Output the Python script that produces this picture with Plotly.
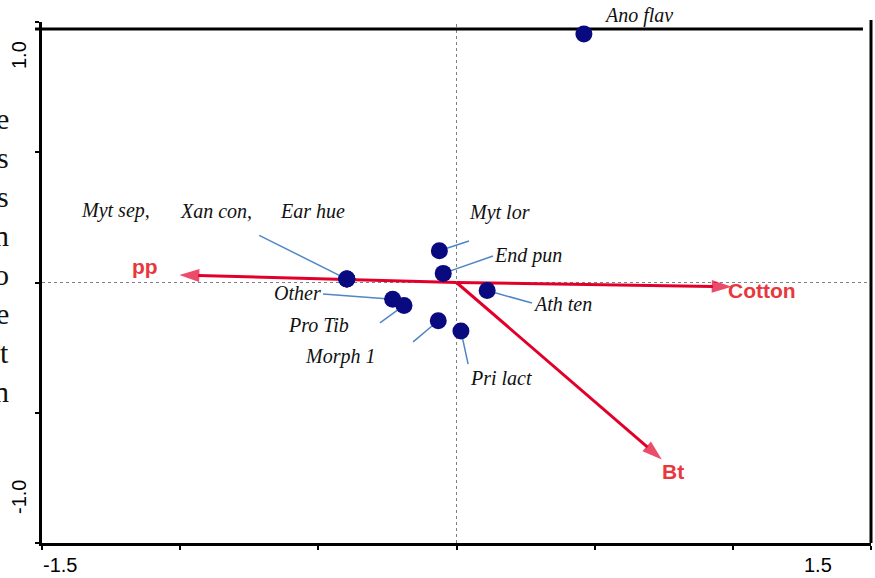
import plotly.graph_objects as go

# ---------------- data ----------------
species = ["Ano flav", "Myt sep,", "Xan con,", "Ear hue", "Myt lor", "End pun",
           "Other", "Pro Tib", "Morph 1", "Pri lact", "Ath ten"]
sp_x = [0.461, -0.397, -0.397, -0.397, -0.062, -0.048, -0.231, -0.190, -0.066, 0.016, 0.111]
sp_y = [0.954, 0.013, 0.013, 0.013, 0.122, 0.035, -0.064, -0.088, -0.147, -0.186, -0.031]

env = ["pp", "Cotton", "Bt"]
env_x = [-1.003, 0.996, 0.743]
env_y = [0.029, -0.016, -0.679]

x_ticks = [-1.5, -1.0, -0.5, 0.0, 0.5, 1.0, 1.5]
y_ticks = [-1.0, -0.5, 0.0, 0.5, 1.0]
x_end_labels = ["-1.5", "1.5"]
y_end_labels = ["1.0", "-1.0"]
side_letters = ["e", "s", "s", "n", "o", "e", "t", "n"]

# ---------------- label layout ----------------
sp_label_pos = {
    "Myt sep,": (-1.233, 0.276), "Xan con,": (-0.870, 0.276),
    "Ear hue": (-0.521, 0.276), "Myt lor": (0.154, 0.267), "End pun": (0.259, 0.102),
    "Other": (-0.574, -0.040), "Pro Tib": (-0.501, -0.163), "Morph 1": (-0.422, -0.285),
    "Pri lact": (0.161, -0.367), "Ath ten": (0.385, -0.083),
}
sp_label_paper = {"Ano flav": (0.720, 1.0134)}
leader_from = {
    "Ear hue": (-0.714, 0.181), "Other": (-0.483, -0.044), "Pro Tib": (-0.277, -0.155),
    "Morph 1": (-0.157, -0.228), "Myt lor": (0.045, 0.159), "End pun": (0.132, 0.102),
    "Ath ten": (0.273, -0.079), "Pri lact": (0.042, -0.313),
}
env_label_pos = {"pp": (-1.127, 0.060), "Cotton": (1.107, -0.029), "Bt": (0.783, -0.726)}

RED = "#e2002a"
RED_TXT = "#e8383d"
NAVY = "#0a0a80"
LEAD = "#4f86c6"
SERIF = "Liberation Serif"
SANS = "Liberation Sans"

fig = go.Figure()

# leader lines (below points)
for name, x, y in zip(species, sp_x, sp_y):
    if name in leader_from:
        lx, ly = leader_from[name]
        fig.add_trace(go.Scatter(x=[lx, x], y=[ly, y], mode="lines",
                                 line=dict(color=LEAD, width=1.5),
                                 hoverinfo="skip", showlegend=False))

# environmental arrows
for name, x, y in zip(env, env_x, env_y):
    fig.add_trace(go.Scatter(x=[0, x], y=[0, y], mode="lines+markers",
                             line=dict(color=RED, width=3),
                             marker=dict(symbol=["circle", "arrow"], size=[0, 21],
                                         angleref="previous", color=RED,
                                         line=dict(width=0)),
                             hoverinfo="skip", showlegend=False))

# species points
fig.add_trace(go.Scatter(x=sp_x, y=sp_y, mode="markers", text=species,
                         marker=dict(color=NAVY, size=17, line=dict(width=0)),
                         hoverinfo="text", showlegend=False))

ann = []
for name in species:
    if name in sp_label_pos:
        lx, ly = sp_label_pos[name]
        ref = dict(xref="x", yref="y")
    else:
        lx, ly = sp_label_paper[name]
        ref = dict(xref="paper", yref="paper")
    ann.append(dict(x=lx, y=ly, text="<i>" + name + "</i>", showarrow=False,
                    xanchor="center", yanchor="middle",
                    font=dict(family=SERIF, size=20, color="#111111"), **ref))
for name in env:
    lx, ly = env_label_pos[name]
    ann.append(dict(x=lx, y=ly, xref="x", yref="y", text="<b>" + name + "</b>",
                    showarrow=False, xanchor="center", yanchor="middle",
                    font=dict(family=SANS, size=21, color=RED_TXT)))

# axis end labels
axf = dict(family=SANS, size=20, color="black")
ann.append(dict(x=0.0217, y=-0.0422, xref="paper", yref="paper", text=x_end_labels[0],
                xanchor="center", yanchor="middle", showarrow=False, font=axf))
ann.append(dict(x=0.936, y=-0.0422, xref="paper", yref="paper", text=x_end_labels[1],
                xanchor="center", yanchor="middle", showarrow=False, font=axf))
ann.append(dict(x=-0.0277, y=0.9367, xref="paper", yref="paper", text=y_end_labels[0],
                textangle=-90, xanchor="center", yanchor="middle", showarrow=False, font=axf))
ann.append(dict(x=-0.0277, y=0.0883, xref="paper", yref="paper", text=y_end_labels[1],
                textangle=-90, xanchor="center", yanchor="middle", showarrow=False, font=axf))

# cropped neighbouring text at the left edge
for i, ch in enumerate(side_letters):
    py = 118 + 39 * i
    ann.append(dict(x=-0.0374, y=(543 - py) / 521, xref="paper", yref="paper", text=ch,
                    showarrow=False, xanchor="right", yanchor="middle",
                    font=dict(family=SERIF, size=30, color="#111111")))

shapes = [
    dict(type="line", xref="x", yref="paper", x0=0, x1=0, y0=0, y1=1,
         line=dict(color="#808080", width=1, dash="dot"), layer="below"),
    dict(type="line", xref="paper", yref="y", x0=0, x1=1, y0=0, y1=0,
         line=dict(color="#808080", width=1, dash="dot"), layer="below"),
    # top frame line
    dict(type="line", xref="paper", yref="paper", x0=-0.0084, x1=0.9903, y0=0.9866, y1=0.9866,
         line=dict(color="black", width=3), layer="below"),
    # right frame line
    dict(type="line", xref="paper", yref="paper", x0=1.0, x1=1.0, y0=0.0, y1=1.004,
         line=dict(color="black", width=3), layer="below"),
]

fig.update_layout(
    width=875, height=578,
    margin=dict(l=42, r=4, t=22, b=35),
    paper_bgcolor="white", plot_bgcolor="white",
    annotations=ann, shapes=shapes,
    xaxis=dict(range=[-1.5, 1.5], tickvals=x_ticks, showticklabels=False,
               showgrid=False, zeroline=False, showline=True, linecolor="black",
               linewidth=3, ticks="outside", ticklen=4, tickwidth=2, tickcolor="black"),
    yaxis=dict(range=[-1.0, 1.0], tickvals=y_ticks, showticklabels=False,
               showgrid=False, zeroline=False, showline=True, linecolor="black",
               linewidth=3, ticks="outside", ticklen=4, tickwidth=2, tickcolor="black"),
)

fig.write_html("out.html", config={"displayModeBar": False},
               post_script="document.body.style.margin='0px';document.body.style.overflow='hidden';")
